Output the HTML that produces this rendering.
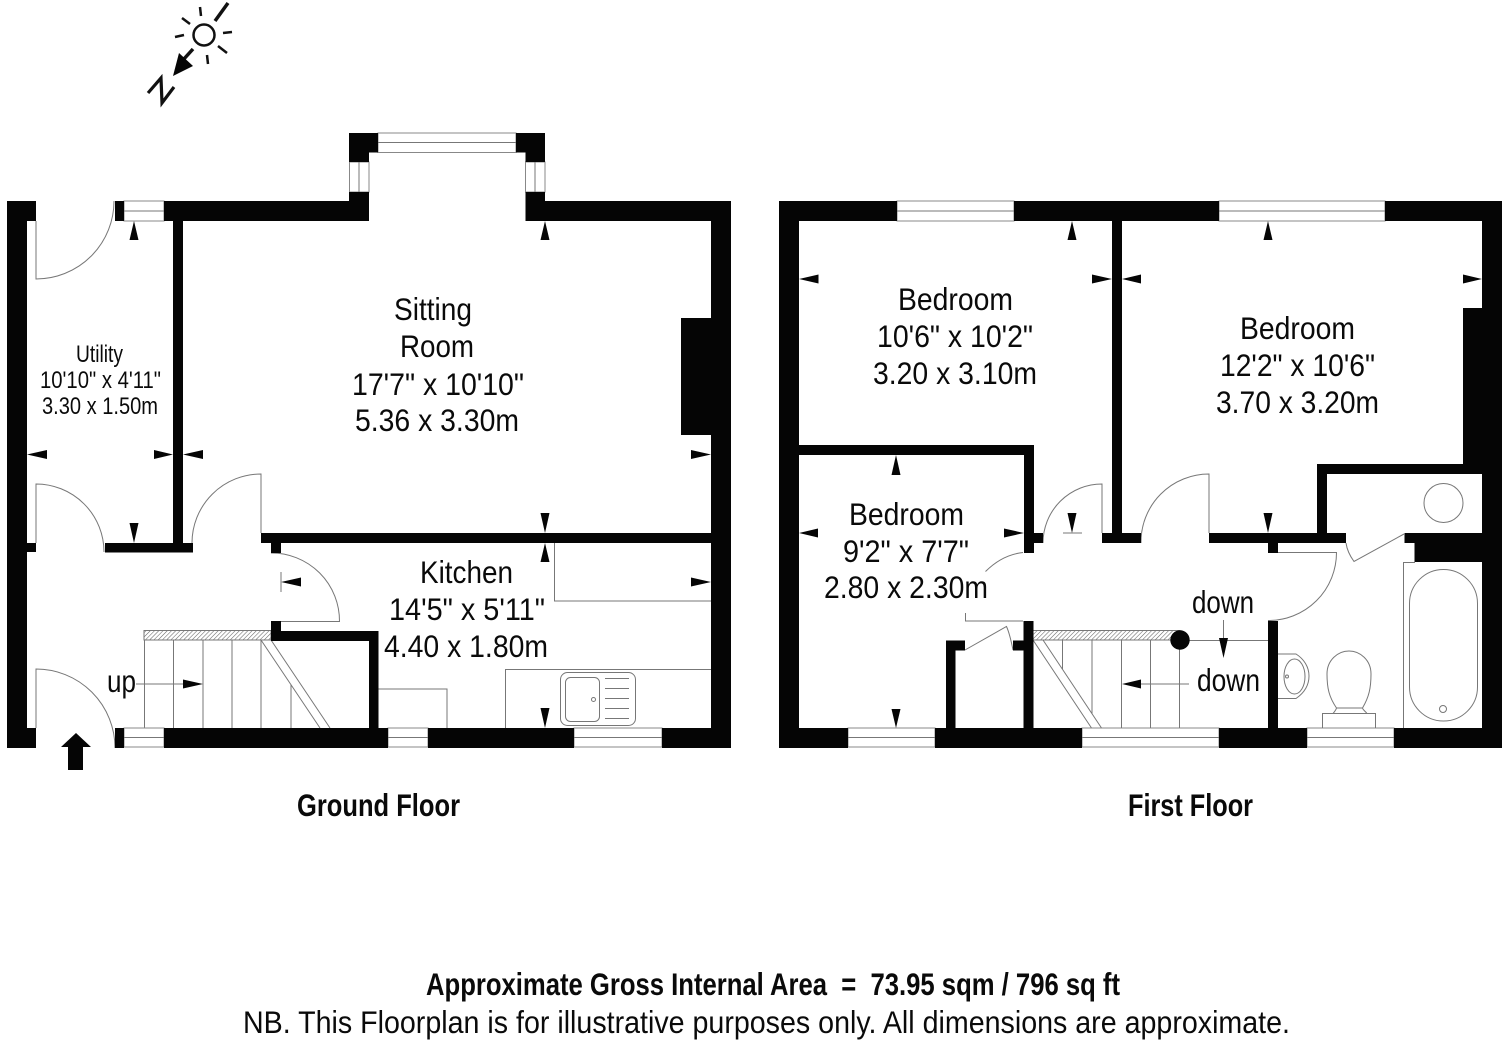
<!DOCTYPE html>
<html><head><meta charset="utf-8"><title>Floorplan</title>
<style>
html,body{margin:0;padding:0;background:#fff;width:1512px;height:1048px;overflow:hidden}
svg{display:block}
text{font-family:"Liberation Sans",Arial,sans-serif;fill:#0a0a0a;white-space:pre}
.r{font-size:31.5px}
.u{font-size:24px}
.b{font-size:31.5px;font-weight:bold}
.l{fill:none;stroke:#777;stroke-width:1}
.w{fill:#050505;stroke:none}
.g{fill:#fff;stroke:#888;stroke-width:1}
.a{fill:#050505}
</style></head><body>
<svg width="1512" height="1048" viewBox="0 0 1512 1048" xmlns="http://www.w3.org/2000/svg">
<defs>
<pattern id="h" width="3" height="3" patternUnits="userSpaceOnUse" patternTransform="rotate(45)"><rect width="3" height="3" fill="#fff"/><line x1="0" y1="0" x2="0" y2="3" stroke="#666" stroke-width="1.1"/></pattern>
</defs>
<rect width="1512" height="1048" fill="#fff"/>

<!-- compass -->
<circle cx="204" cy="35" r="10.5" fill="none" stroke="#111" stroke-width="2.5"/>
<g stroke="#111" stroke-width="2.5" fill="none">
<line x1="200" y1="7" x2="201" y2="16"/><line x1="182" y1="18" x2="190" y2="24"/>
<line x1="175" y1="37" x2="184" y2="35"/><line x1="223" y1="33" x2="232" y2="32"/>
<line x1="218" y1="46" x2="227" y2="53"/><line x1="207" y1="55" x2="208" y2="64"/>
<line x1="215" y1="21" x2="228" y2="3" stroke-width="3.5"/>
<line x1="193" y1="49" x2="183" y2="60" stroke-width="3.5"/>
<polyline points="148,93 161,78 162,103 174,87" stroke-width="3.2"/>
</g>
<polygon class="a" points="173,76 179,53 193,66"/>

<!-- GROUND FLOOR: doors and fittings -->
<path class="l" d="M36 221V279A78 78 0 0 0 114 201"/>
<path class="l" d="M36 543V484A68 68 0 0 1 104 552"/>
<path class="l" d="M261 533V474A69 69 0 0 0 192 543"/>
<path class="l" d="M271 553A68 68 0 0 1 339.500 621.500H281"/>
<path class="l" d="M36 728V669A79 79 0 0 1 115 748"/>
<!-- stairs -->
<rect x="144" y="630.500" width="127" height="9.500" fill="url(#h)" stroke="#777"/>
<path class="l" d="M144.500 640V728M173.500 640V728M203 640V728M232 640V728M261 640V728M291 685V728M261 640L320 728M271 640L330 728M136 684H185"/>
<!-- kitchen -->
<path class="l" d="M554.500 543V601H711M505.500 728V669.500H711M378 689H447V728"/>
<rect class="l" x="560.500" y="672.500" width="75" height="53" rx="7"/>
<rect class="l" x="565.500" y="677.500" width="34" height="44" rx="5"/>
<circle class="l" cx="593.500" cy="699.500" r="2"/>
<path class="l" d="M605 678.500H629M605 688.500H629M605 698.500H629M605 708.500H629M605 718.500H629"/>

<!-- windows -->
<g>
<rect class="g" x="124" y="201" width="40" height="20"/><line class="l" x1="124" y1="211" x2="164" y2="211"/>
<rect class="g" x="378" y="133" width="138" height="19.500"/><line class="l" x1="378" y1="142.500" x2="516" y2="142.500"/>
<rect class="g" x="349.500" y="162" width="19.500" height="30"/><line class="l" x1="359" y1="162" x2="359" y2="192"/>
<rect class="g" x="525.500" y="162" width="19.500" height="30"/><line class="l" x1="535" y1="162" x2="535" y2="192"/>
<rect class="g" x="124" y="728" width="40" height="19"/><line class="l" x1="124" y1="737.500" x2="164" y2="737.500"/>
<rect class="g" x="388" y="728" width="40" height="19"/><line class="l" x1="388" y1="737.500" x2="428" y2="737.500"/>
<rect class="g" x="574" y="728" width="88" height="19"/><line class="l" x1="574" y1="737.500" x2="662" y2="737.500"/>
<rect class="g" x="897" y="201" width="117" height="20"/><line class="l" x1="897" y1="211" x2="1014" y2="211"/>
<rect class="g" x="1219" y="201" width="166" height="20"/><line class="l" x1="1219" y1="211" x2="1385" y2="211"/>
<rect class="g" x="848" y="728" width="87" height="19"/><line class="l" x1="848" y1="737.500" x2="935" y2="737.500"/>
<rect class="g" x="1082" y="728" width="137" height="19"/><line class="l" x1="1082" y1="737.500" x2="1219" y2="737.500"/>
<rect class="g" x="1307" y="728" width="87" height="19"/><line class="l" x1="1307" y1="737.500" x2="1394" y2="737.500"/>
</g>

<!-- ground walls -->
<g class="w">
<rect x="7" y="201" width="20" height="547"/><rect x="7" y="201" width="29" height="20"/>
<rect x="27" y="543" width="9" height="9"/><rect x="27" y="728" width="9" height="20"/>
<rect x="115" y="728" width="9" height="20"/><rect x="164" y="728" width="224" height="20"/>
<rect x="428" y="728" width="146" height="20"/><rect x="662" y="728" width="69" height="20"/>
<rect x="711" y="201" width="20" height="547"/>
<rect x="115" y="201" width="9" height="20"/><rect x="164" y="201" width="205" height="20"/>
<rect x="173" y="221" width="10" height="331"/><rect x="105" y="543" width="88" height="9.500"/>
<rect x="261" y="533" width="450" height="10"/><rect x="271" y="543" width="10" height="10"/>
<rect x="271" y="621" width="10" height="20"/><rect x="271" y="631" width="107" height="10"/>
<rect x="369" y="631" width="9.500" height="97"/>
<rect x="349" y="133" width="29" height="19.500"/><rect x="349" y="133" width="20" height="29"/>
<rect x="349" y="192" width="20" height="29"/>
<rect x="516" y="133" width="29" height="19.500"/><rect x="525.500" y="133" width="19.500" height="29"/>
<rect x="525.500" y="192" width="19.500" height="29"/><rect x="525.500" y="201" width="205.500" height="20"/>
<rect x="681" y="318" width="30" height="117"/>
</g>
<polygon class="a" points="76,733 91,747 83,747 83,770 68,770 68,747 61,747"/>

<!-- ground arrows -->
<g class="a">
<polygon points="134,221 129.500,240 138.500,240"/><polygon points="545,221 540.500,240 549.500,240"/>
<polygon points="27,454.500 47,450 47,459"/><polygon points="173,454.500 154,450 154,459"/>
<polygon points="183,454.500 203,450 203,459"/><polygon points="134,543 129.500,523 138.500,523"/>
<polygon points="281,582 301,577.500 301,586.500"/><polygon points="711,454.500 691,450 691,459"/>
<polygon points="545,533 540.500,513 549.500,513"/><polygon points="545,543 540.500,562 549.500,562"/>
<polygon points="711,582 691,577.500 691,586.500"/><polygon points="545,728 540.500,708 549.500,708"/>
<polygon points="203,684 183,679.500 183,688.500"/>
</g>
<line class="l" x1="281" y1="572" x2="281" y2="592"/>

<!-- FIRST FLOOR: doors and fittings -->
<path class="l" d="M1102 533V484A59 59 0 0 0 1043 543"/>
<path class="l" d="M1209 533V474A68 68 0 0 0 1141 543"/>
<path class="l" d="M1278 552.500H1336.500A68 68 0 0 1 1268 620.500"/>
<path class="l" d="M1023 552.500C1009 554 996 561 985.500 571.500M965.500 613V621H1023"/>
<path class="l" d="M965 650L1006.500 626.500C1009 632 1011 640 1013 650"/>
<path class="l" d="M1346 543C1347 550 1350 556 1354 561.500L1404 534"/>
<path class="l" d="M1063 533H1082"/>
<!-- first stairs -->
<rect x="1033" y="630.500" width="147" height="9.500" fill="url(#h)" stroke="#777"/>
<path class="l" d="M1062.500 640V669M1092 640V714M1121.500 640V728M1150.500 640V728M1179.500 640V728M1033 640L1091.500 728M1043 640L1101.500 728M1180 640.500H1268M1223.500 620V640M1189 684H1140"/>
<circle cx="1180" cy="640" r="9.700" fill="#050505"/>
<!-- bathroom -->
<circle class="l" cx="1443.500" cy="503" r="19.500"/>
<path class="l" d="M1403.500 728V562.500H1415"/>
<rect class="l" x="1409.500" y="569.500" width="68" height="151.500" rx="34" ry="34"/>
<circle class="l" cx="1443" cy="709" r="3.500"/>
<path class="l" d="M1278 654H1296C1304 659 1309 667 1309 676C1309 686 1304 693 1296 698.500H1278"/>
<ellipse class="l" cx="1294.500" cy="676.500" rx="10.500" ry="17.500"/>
<circle class="l" cx="1287" cy="676.500" r="1.500"/>
<path class="l" d="M1322.500 728V713.500H1375.500V728M1333 713.500C1335 711 1336 710 1336.500 708C1329 697 1327 688 1327 674C1327 660 1338 651 1349 651C1360 651 1371 660 1371 674C1371 688 1369 697 1362.500 708C1363 710 1365 711 1367 713.500M1336.500 708H1362.500"/>

<!-- first walls -->
<g class="w">
<rect x="779" y="201" width="20" height="547"/><rect x="779" y="201" width="118" height="20"/>
<rect x="1014" y="201" width="205" height="20"/><rect x="1385" y="201" width="117" height="20"/>
<rect x="1482" y="201" width="20" height="547"/>
<rect x="1112" y="221" width="10" height="322"/>
<rect x="799" y="445" width="235" height="10"/><rect x="1024" y="445" width="10" height="108"/>
<rect x="1034" y="533" width="9" height="10"/>
<rect x="1102" y="533" width="39" height="10"/>
<rect x="1209" y="533" width="137" height="10"/><rect x="1268" y="543" width="10" height="10"/>
<rect x="1268" y="621" width="10" height="107"/>
<rect x="1317" y="464" width="10" height="69"/><rect x="1317" y="464" width="165" height="10"/>
<rect x="1463" y="308" width="19" height="156"/>
<rect x="1404.500" y="533" width="77.500" height="10"/><rect x="1414.500" y="543" width="67.500" height="19"/>
<rect x="779" y="728" width="69" height="20"/><rect x="935" y="728" width="147" height="20"/>
<rect x="1219" y="728" width="88" height="20"/><rect x="1394" y="728" width="108" height="20"/>
<rect x="946" y="640.500" width="9.500" height="88"/><rect x="946" y="640.500" width="19" height="10"/>
<rect x="1013" y="640.500" width="11" height="10"/><rect x="1023.500" y="621" width="10" height="107"/>
</g>

<!-- first arrows -->
<g class="a">
<polygon points="799,279 818.500,274.500 818.500,283.500"/><polygon points="1112,279 1092,274.500 1092,283.500"/>
<polygon points="1122,279 1141,274.500 1141,283.500"/><polygon points="1482,279 1463,274.500 1463,283.500"/>
<polygon points="1072,221 1067.500,240 1076.500,240"/><polygon points="1268,221 1263.500,240 1272.500,240"/>
<polygon points="896,455 891.500,475 900.500,475"/><polygon points="896,728 891.500,709 900.500,709"/>
<polygon points="799,533 818,528.500 818,537.500"/><polygon points="1024,533 1004,528.500 1004,537.500"/>
<polygon points="1072,533 1067.500,513 1076.500,513"/><polygon points="1268,533 1263.500,513 1272.500,513"/>
<polygon points="1223.500,658 1219,638 1228,638"/><polygon points="1122,684 1141,679.500 1141,688.500"/>
</g>

<!-- labels -->
<g>
<text class="r" x="394" y="320" textLength="78" lengthAdjust="spacingAndGlyphs">Sitting</text>
<text class="r" x="400" y="357" textLength="74" lengthAdjust="spacingAndGlyphs">Room</text>
<text class="r" x="352" y="395" textLength="172" lengthAdjust="spacingAndGlyphs">17'7" x 10'10"</text>
<text class="r" x="355" y="431" textLength="164" lengthAdjust="spacingAndGlyphs">5.36 x 3.30m</text>
<text class="r" x="420" y="583" textLength="93" lengthAdjust="spacingAndGlyphs">Kitchen</text>
<text class="r" x="389" y="620" textLength="156" lengthAdjust="spacingAndGlyphs">14'5" x 5'11"</text>
<text class="r" x="384" y="657" textLength="164" lengthAdjust="spacingAndGlyphs">4.40 x 1.80m</text>
<text class="u" x="76" y="362" textLength="47" lengthAdjust="spacingAndGlyphs">Utility</text>
<text class="u" x="40" y="388" textLength="121" lengthAdjust="spacingAndGlyphs">10'10" x 4'11"</text>
<text class="u" x="42" y="414" textLength="116" lengthAdjust="spacingAndGlyphs">3.30 x 1.50m</text>
<text class="r" x="107" y="692" textLength="29" lengthAdjust="spacingAndGlyphs">up</text>
<text class="r" x="898" y="310" textLength="115" lengthAdjust="spacingAndGlyphs">Bedroom</text>
<text class="r" x="877" y="347" textLength="156" lengthAdjust="spacingAndGlyphs">10'6" x 10'2"</text>
<text class="r" x="873" y="384" textLength="164" lengthAdjust="spacingAndGlyphs">3.20 x 3.10m</text>
<text class="r" x="1240" y="339" textLength="115" lengthAdjust="spacingAndGlyphs">Bedroom</text>
<text class="r" x="1220" y="376" textLength="155" lengthAdjust="spacingAndGlyphs">12'2" x 10'6"</text>
<text class="r" x="1216" y="413" textLength="163" lengthAdjust="spacingAndGlyphs">3.70 x 3.20m</text>
<text class="r" x="849" y="525" textLength="115" lengthAdjust="spacingAndGlyphs">Bedroom</text>
<text class="r" x="843" y="562" textLength="126" lengthAdjust="spacingAndGlyphs">9'2" x 7'7"</text>
<text class="r" x="824" y="598" textLength="164" lengthAdjust="spacingAndGlyphs">2.80 x 2.30m</text>
<text class="r" x="1192" y="613" textLength="62" lengthAdjust="spacingAndGlyphs">down</text>
<text class="r" x="1197" y="691" textLength="63" lengthAdjust="spacingAndGlyphs">down</text>
<text class="b" x="297" y="816" textLength="163" lengthAdjust="spacingAndGlyphs">Ground Floor</text>
<text class="b" x="1128" y="816" textLength="125" lengthAdjust="spacingAndGlyphs">First Floor</text>
<text class="b" x="426" y="995" textLength="694" lengthAdjust="spacingAndGlyphs">Approximate Gross Internal Area  =  73.95 sqm / 796 sq ft</text>
<text class="r" x="243" y="1033" textLength="1047" lengthAdjust="spacingAndGlyphs">NB. This Floorplan is for illustrative purposes only. All dimensions are approximate.</text>
</g>
</svg>
</body></html>
